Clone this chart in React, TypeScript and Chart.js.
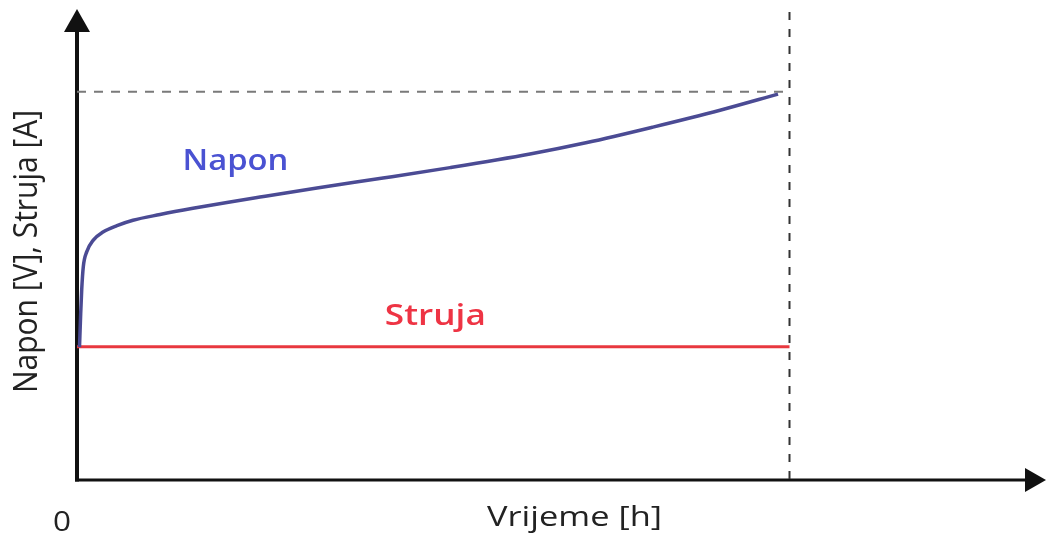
import React, { useEffect, useRef } from "react";
import { Chart, registerables } from "chart.js";

Chart.register(...registerables);

// ---- data ----
const timeH = [0.035, 0.052, 0.066, 0.088, 0.136, 0.229, 0.365, 0.561, 0.786, 1.165, 1.628, 2.105, 2.568, 3.368, 4.295, 5.235, 6.358, 7.158, 8.084, 9.025, 9.839];
const naponV = [3.95, 4.96, 5.65, 6.33, 6.78, 7.13, 7.37, 7.56, 7.72, 7.89, 8.075, 8.25, 8.41, 8.68, 8.975, 9.285, 9.69, 10.03, 10.49, 10.99, 11.47];
const strujaTime = [0, 10];
const strujaA = [3.96, 3.96];
const endTime = 10;
const maxNapon = 11.54;
const xMax = 13.6;
const yMax = 14;
const vLineTop = 13.91;
const xTickLabels = ["0"];
const xTitle = "Vrijeme [h]";
const yTitle = "Napon [V], Struja [A]";
const seriesLabels = ["Napon", "Struja"];

const FONT = "'Open Sans'";

function stretchedText(
  ctx: CanvasRenderingContext2D,
  text: string,
  x: number,
  y: number,
  font: string,
  color: string,
  length: number,
  rotated = false,
  cross = 1
) {
  ctx.save();
  ctx.font = font;
  ctx.fillStyle = color;
  ctx.textAlign = "left";
  ctx.textBaseline = "alphabetic";
  const w = ctx.measureText(text).width;
  ctx.translate(x, y);
  if (rotated) {
    ctx.scale(cross, 1);
    ctx.rotate(-Math.PI / 2);
    ctx.scale(length / w, 1);
  } else {
    ctx.scale(length / w, 1);
  }
  ctx.fillText(text, 0, 0);
  ctx.restore();
}

const decorPlugin = {
  id: "decor",
  beforeDatasetsDraw(chart: any) {
    const { ctx, chartArea } = chart;
    const { left, top, right, bottom } = chartArea;
    ctx.save();
    ctx.strokeStyle = "#111";
    ctx.fillStyle = "#111";
    // y axis
    ctx.lineWidth = 4;
    ctx.beginPath();
    ctx.moveTo(left, bottom + 1.5);
    ctx.lineTo(left, top + 20);
    ctx.stroke();
    ctx.beginPath();
    ctx.moveTo(left, top);
    ctx.lineTo(left - 13, top + 23);
    ctx.lineTo(left + 13, top + 23);
    ctx.closePath();
    ctx.fill();
    // x axis
    ctx.lineWidth = 3;
    ctx.beginPath();
    ctx.moveTo(left - 2, bottom);
    ctx.lineTo(right - 18, bottom);
    ctx.stroke();
    ctx.beginPath();
    ctx.moveTo(right, bottom);
    ctx.lineTo(right - 21, bottom - 12);
    ctx.lineTo(right - 21, bottom + 12);
    ctx.closePath();
    ctx.fill();
    ctx.restore();
  },
  afterDatasetsDraw(chart: any) {
    const { ctx, chartArea } = chart;
    const { left, bottom } = chartArea;
    const xs = chart.scales.x;
    const ys = chart.scales.y;
    // series labels
    stretchedText(ctx, seriesLabels[0], xs.getPixelForValue(1.48), ys.getPixelForValue(9.2), `600 29px ${FONT}`, "#4a52d2", 106);
    stretchedText(ctx, seriesLabels[1], xs.getPixelForValue(4.32), ys.getPixelForValue(4.6), `600 29px ${FONT}`, "#ee3444", 101);
    // origin tick
    stretchedText(ctx, xTickLabels[0], left - 24, bottom + 51, `400 28px ${FONT}`, "#222", 18);
    // x title
    stretchedText(ctx, xTitle, 487, bottom + 46, `400 27px ${FONT}`, "#222", 175);
    // y title (rotated)
    stretchedText(ctx, yTitle, 37, 393, `400 25px ${FONT}`, "#222", 283, true, 1.29);
  },
};

export default function App() {
  const ref = useRef<HTMLCanvasElement | null>(null);
  useEffect(() => {
    let chart: Chart | null = null;
    let cancelled = false;
    const make = () => {
      if (cancelled || !ref.current) return;
      chart = new Chart(ref.current, {
        type: "line",
        data: {
          datasets: [
            {
              label: seriesLabels[1],
              data: strujaTime.map((t, i) => ({ x: t, y: strujaA[i] })),
              borderColor: "#e8383f",
              borderWidth: 3,
              pointRadius: 0,
              order: 2,
            },
            {
              label: seriesLabels[0],
              data: timeH.map((t, i) => ({ x: t, y: naponV[i] })),
              borderColor: "#4b4b94",
              borderWidth: 3.5,
              pointRadius: 0,
              cubicInterpolationMode: "monotone",
              order: 1,
            },
            {
              label: "max",
              data: [
                { x: 0, y: maxNapon },
                { x: endTime, y: maxNapon },
              ],
              borderColor: "#7a7a7a",
              borderWidth: 2,
              borderDash: [9, 8],
              pointRadius: 0,
              order: 3,
            },
            {
              label: "end",
              data: [
                { x: endTime, y: vLineTop },
                { x: endTime, y: 0 },
              ],
              borderColor: "#333",
              borderWidth: 2,
              borderDash: [8, 9],
              pointRadius: 0,
              order: 3,
            },
          ],
        },
        options: {
          animation: false,
          responsive: true,
          maintainAspectRatio: false,
          layout: { padding: { left: 77, top: 9, right: 3, bottom: 59 } },
          plugins: { legend: { display: false }, tooltip: { enabled: false } },
          scales: {
            x: { type: "linear", min: 0, max: xMax, display: false },
            y: { type: "linear", min: 0, max: yMax, display: false },
          },
        },
        plugins: [decorPlugin],
      });
    };
    const fonts: any = (document as any).fonts;
    if (fonts && fonts.load) {
      Promise.all([
        fonts.load(`600 29px ${FONT}`),
        fonts.load(`400 27px ${FONT}`),
      ])
        .catch(() => null)
        .then(make);
    } else {
      make();
    }
    return () => {
      cancelled = true;
      if (chart) chart.destroy();
    };
  }, []);
  return (
    <div style={{ position: "fixed", left: 0, top: 0, width: 1049, height: 539, background: "#fff" }}>
      <canvas ref={ref} />
    </div>
  );
}
